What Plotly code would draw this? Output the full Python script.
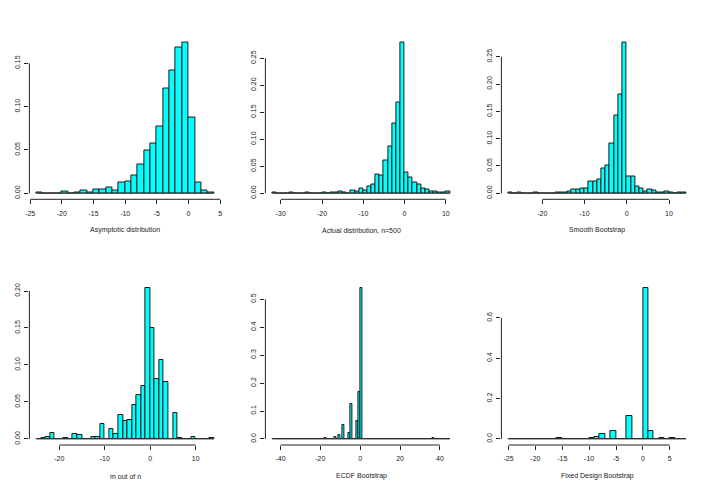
import plotly.graph_objects as go
from plotly.subplots import make_subplots

# histogram densities, bin width 1, listed from the first break
asym_start = -24
asym_dens = [0.001, 0, 0, 0, 0.002, 0, 0.001, 0.003, 0.001, 0.004, 0.004, 0.007,
             0.0035, 0.013, 0.014, 0.020, 0.033, 0.049, 0.058, 0.077, 0.121, 0.142,
             0.168, 0.174, 0.087, 0.013, 0.003, 0.001]

actual_start = -32
actual_dens = [0.001, 0, 0, 0, 0.001, 0, 0, 0, 0.001, 0, 0, 0, 0.001, 0, 0.001, 0.002,
               0.0037, 0.001, 0, 0.005, 0.004, 0.009, 0.006, 0.013, 0.017, 0.035, 0.033,
               0.060, 0.087, 0.130, 0.168, 0.279, 0.039, 0.030, 0.020, 0.016, 0.008,
               0.007, 0.004, 0.004, 0.002, 0.001, 0.003]

smooth_start = -28
smooth_dens = [0.001, 0.0005, 0.001, 0, 0, 0, 0.001, 0, 0, 0, 0, 0.001, 0.001, 0.002,
               0.004, 0.006, 0.007, 0.008, 0.009, 0.022, 0.021, 0.026, 0.046, 0.050,
               0.091, 0.142, 0.181, 0.276, 0.031, 0.031, 0.013, 0.008, 0.004, 0.006,
               0.005, 0.001, 0.001, 0.003, 0.001, 0, 0.001, 0.001]

moon_start = -25
moon_dens = [0.0005, 0.001, 0.002, 0.008, 0, 0, 0.001, 0, 0.007, 0.006, 0, 0, 0.003,
             0.002, 0.020, 0, 0.014, 0.007, 0.033, 0.024, 0.025, 0.046, 0.060, 0.071,
             0.204, 0.150, 0.081, 0.107, 0.077, 0, 0.035, 0.001, 0, 0, 0.003, 0, 0, 0,
             0.001]

ecdf_start = -44
ecdf_dens = [0] * 89
for b, d in [(-40, 0.001), (-32, 0.0007), (-31, 0.0007), (-25, 0.0007), (-18, 0.002),
             (-13, 0.007), (-11, 0.014), (-9, 0.049), (-6, 0.020), (-5, 0.125),
             (-2, 0.064), (-1, 0.168), (0, 0.54), (36, 0.004)]:
    ecdf_dens[b - ecdf_start] = d

fixed_start = -25
fixed_dens = [0.001, 0.001, 0, 0, 0, 0.001, 0, 0, 0, 0.003, 0, 0, 0, 0, 0, 0.003,
              0.010, 0.023, 0, 0.040, 0, 0, 0.113, 0, 0, 0.748, 0.038, 0, 0.007, 0,
              0.006, 0.002, 0]

titles = ["Asymptotic distribution", "Actual distribution, n=500", "Smooth Bootstrap",
          "m out of n", "ECDF Bootstrap", "Fixed Design Bootstrap"]
xticks = [[-25, -20, -15, -10, -5, 0, 5], [-30, -20, -10, 0, 10], [-20, -10, 0, 10],
          [-20, -10, 0, 10], [-40, -20, 0, 20, 40], [-25, -20, -15, -10, -5, 0, 5]]
yticks = [[0, 0.05, 0.10, 0.15], [0, 0.05, 0.10, 0.15, 0.20, 0.25],
          [0, 0.05, 0.10, 0.15, 0.20, 0.25], [0, 0.05, 0.10, 0.15, 0.20],
          [0, 0.1, 0.2, 0.3, 0.4, 0.5], [0, 0.2, 0.4, 0.6]]
ydigits = [2, 2, 2, 2, 1, 1]

panels = [(asym_start, asym_dens), (actual_start, actual_dens), (smooth_start, smooth_dens),
          (moon_start, moon_dens), (ecdf_start, ecdf_dens), (fixed_start, fixed_dens)]

FONT = "Liberation Sans Narrow, Liberation Sans, Arial, sans-serif"
W, H = 708, 491
ink = '#222222'

fig = make_subplots(rows=2, cols=3)

for k, (start, dens) in enumerate(panels):
    row, col = k // 3 + 1, k % 3 + 1
    n = len(dens)
    fig.add_trace(go.Scatter(
        x=[start, start + n], y=[0, 0], mode='lines',
        line=dict(color='#444444', width=1), hoverinfo='skip'
    ), row=row, col=col)
    fig.add_trace(go.Bar(
        x=[start + i + 0.5 for i in range(n)], y=dens, width=1,
        marker=dict(color='#00FFFF', line=dict(color='#1a1a1a', width=1))
    ), row=row, col=col)

    lo, hi = start, start + n
    pad = 0.04 * (hi - lo)
    ymax = max(dens)
    left = 236 * (col - 1) + 29.4
    right = 236 * (col - 1) + 221
    top = 36.5 if row == 1 else 282
    bottom = 199.3 if row == 1 else 445
    sfx = '' if k == 0 else str(k + 1)
    fig.update_layout({
        'xaxis' + sfx: dict(domain=[left / W, right / W], range=[lo - pad, hi + pad],
                            tickvals=xticks[k], ticktext=[str(v) for v in xticks[k]],
                            ticks='outside', ticklen=4, tickwidth=1, tickcolor=ink,
                            showgrid=False, zeroline=False, showline=False, automargin=False,
                            tickfont=dict(size=7, color=ink), ticklabelstandoff=3),
        'yaxis' + sfx: dict(domain=[1 - bottom / H, 1 - top / H],
                            range=[-0.04 * ymax, 1.04 * ymax], tickvals=yticks[k],
                            ticktext=[f"{v:.{ydigits[k]}f}" for v in yticks[k]],
                            ticks='outside', ticklen=4, tickwidth=1, tickcolor=ink,
                            tickangle=-90, showgrid=False, zeroline=False, showline=False,
                            automargin=False, tickfont=dict(size=7, color=ink),
                            ticklabelstandoff=2),
    })
    xr, yr = 'x' + sfx, 'y' + sfx
    # R style axis lines run from the first to the last tick only
    fig.add_shape(type='line', xref=xr, yref=yr + ' domain', x0=xticks[k][0],
                  x1=xticks[k][-1], y0=0, y1=0, line=dict(color=ink, width=1))
    fig.add_shape(type='line', xref=xr + ' domain', yref=yr, x0=0, x1=0,
                  y0=yticks[k][0], y1=yticks[k][-1], line=dict(color=ink, width=1))
    fig.add_annotation(text=titles[k], xref=xr + ' domain', yref=yr + ' domain',
                       x=0.5, y=0, yshift=-31, showarrow=False, yanchor='middle',
                       font=dict(size=7, color=ink))

fig.update_layout(
    width=W, height=H,
    margin=dict(l=0, r=0, t=0, b=0),
    showlegend=False,
    plot_bgcolor='white', paper_bgcolor='white',
    font=dict(family=FONT, size=7, color=ink),
    bargap=0,
)
fig.write_html("out.html", config={'displayModeBar': False},
               post_script="document.body.style.margin='0';")
